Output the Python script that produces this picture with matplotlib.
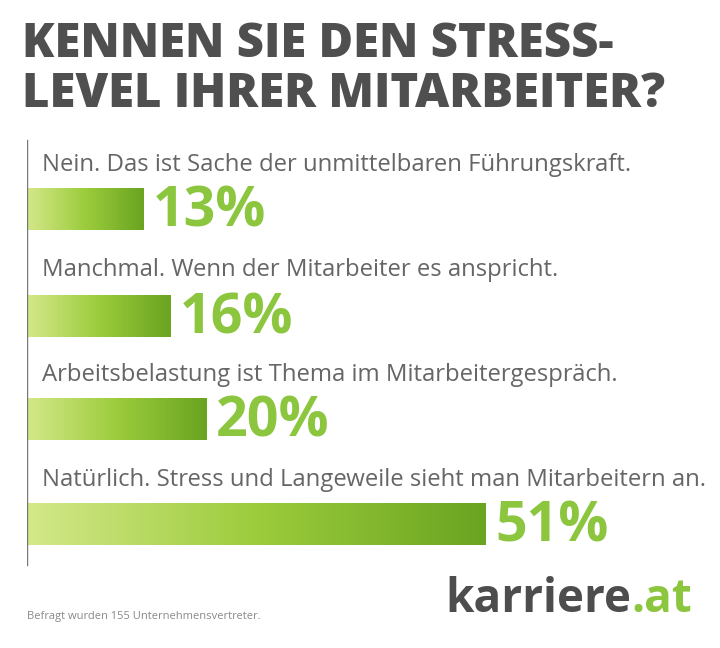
import matplotlib
matplotlib.use("Agg")
import matplotlib.pyplot as plt
import numpy as np
from matplotlib.colors import LinearSegmentedColormap

title = "KENNEN SIE DEN STRESS-\nLEVEL IHRER MITARBEITER?"
categories = ["Nein. Das ist Sache der unmittelbaren Führungskraft.",
              "Manchmal. Wenn der Mitarbeiter es anspricht.",
              "Arbeitsbelastung ist Thema im Mitarbeitergespräch.",
              "Natürlich. Stress und Langeweile sieht man Mitarbeitern an."]
values = [13, 16, 20, 51]
footnote = "Befragt wurden 155 Unternehmensvertreter."

W, H = 720, 648
fig = plt.figure(figsize=(7.2, 6.48), dpi=100)
fig.patch.set_facecolor("white")
ax = fig.add_axes([27/W, 0, (W-27)/W, 1])
ax.set_xlim(0, (W-27)/9.0)
ax.set_ylim(H, 0)
ax.axis("off")

dark = "#4d4d4d"
green = "#8cc63f"
cmap = LinearSegmentedColormap.from_list("g", ["#d4e88a", "#9ccc3c", "#6aa421"])
grad = np.linspace(0, 1, 256).reshape(1, -1)

centers = [209, 316, 419, 524]
label_y = [165, 270, 375, 480]
bh = 42
for c, ly, v, cat in zip(centers, label_y, values, categories):
    ax.imshow(grad, cmap=cmap, aspect="auto", extent=(0, v, c + bh/2, c - bh/2), zorder=2)
    ax.text(1.7, ly, cat, fontsize=17.2, color="#666666", va="center", ha="left",
            family="Open Sans")
    ax.text(v + 1.0, c + 3, f"{v}%", fontsize=40, color=green, fontweight="bold",
            va="center", ha="left", family="Open Sans")

ax.plot([0, 0], [140, 565], color="#777777", lw=1, zorder=3)

fig.text(22/W, 1 - 70/H, title, fontsize=34, fontweight="heavy", color="#4f4f4f",
         va="center", ha="left", family="Open Sans", linespacing=1.05)
fig.text(27/W, 1 - 617/H, footnote, fontsize=8, color="#888888", va="center", ha="left",
         family="Open Sans")
t = fig.text(445/W, 1 - 600/H, "karriere", fontsize=33, fontweight="bold", color=dark,
             va="center", ha="left", family="Open Sans")
fig.canvas.draw()
bb = t.get_window_extent()
fig.text(bb.x1/W, 1 - 600/H, ".at", fontsize=33, fontweight="bold", color=green,
         va="center", ha="left", family="Open Sans")
fig.savefig("out.png", dpi=100)
